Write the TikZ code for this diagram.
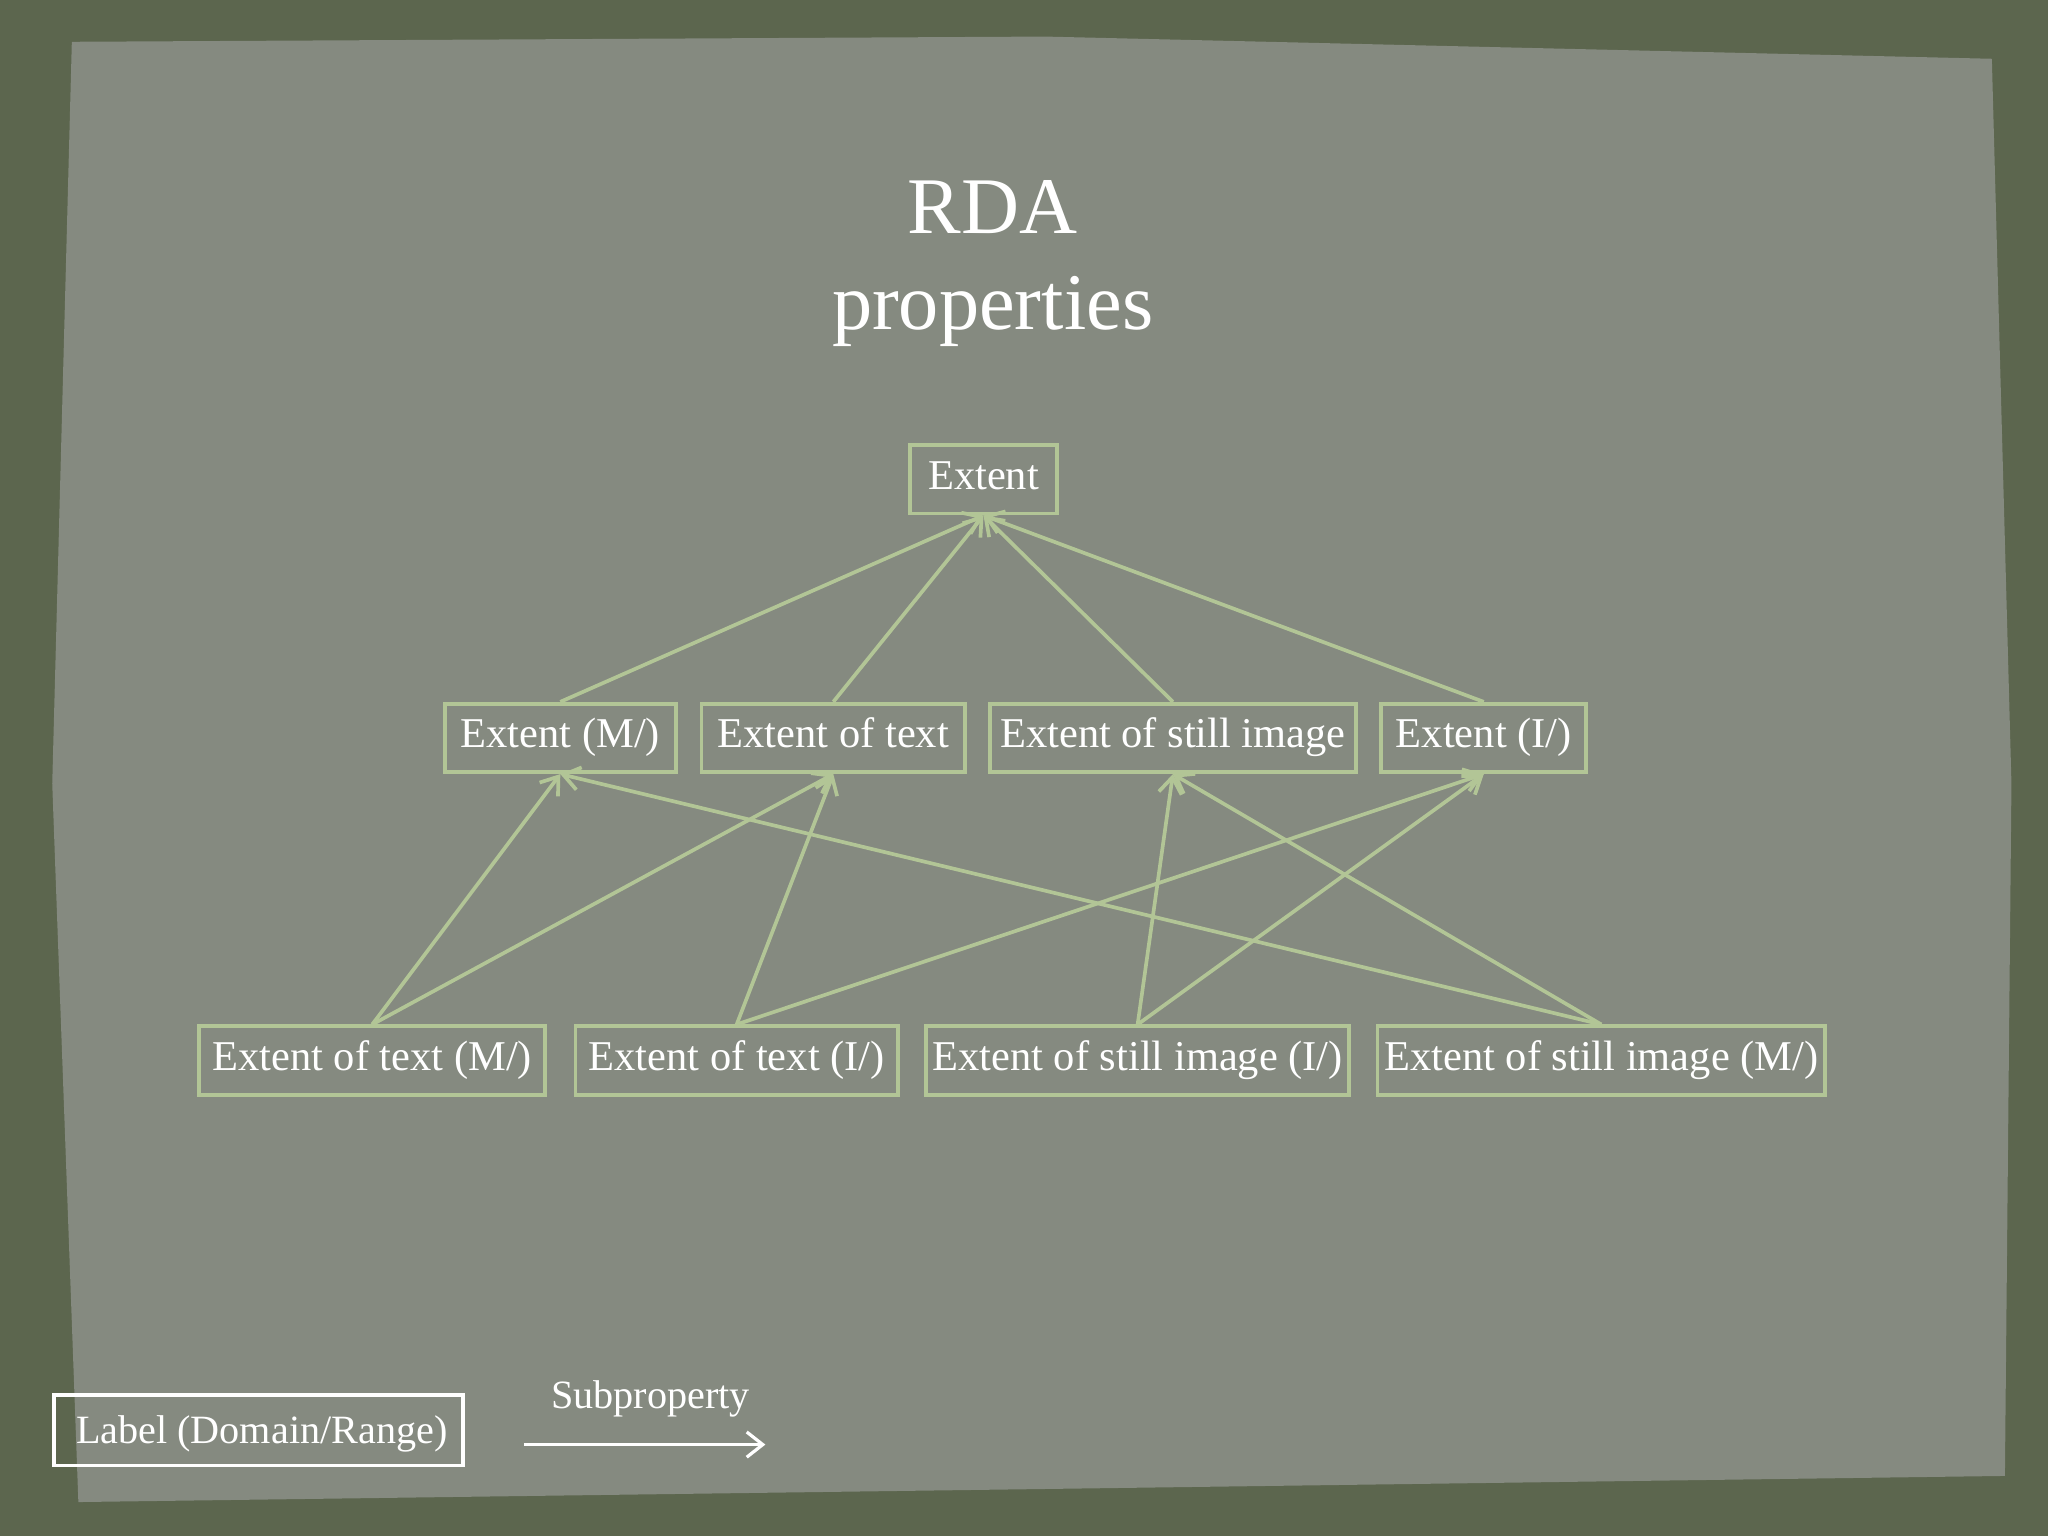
\documentclass[tikz,border=0pt]{standalone}
\usepackage{fontspec}
\setmainfont{Liberation Serif}
\usetikzlibrary{arrows.meta}
\begin{document}
\begin{tikzpicture}[x=0.02cm,y=-0.02cm,
  bx/.style={draw=boxc,line width=1.6pt,minimum height=1.05cm,inner sep=0pt,text height=1.05em,text depth=0.2em,text=white,font=\fontsize{18.5}{22}\selectfont},
  ar/.style={draw=boxc,line width=1.6pt,-{Straight Barb[length=7pt,width=10pt]}}]
\definecolor{boxc}{HTML}{B2C596}
\definecolor{outer}{HTML}{5C664E}
\definecolor{paper}{HTML}{858A80}
\useasboundingbox (0,0) rectangle (1568,1176);
\fill[outer] (0,0) rectangle (1568,1176);
\fill[paper] (55,32) -- (800,28) -- (1525,45) -- (1540,600) -- (1535,1130) -- (800,1140) -- (60,1150) -- (40,600) -- cycle;
\node[text=white,font=\fontsize{35}{42}\selectfont,align=center] (title) at (760,202) {RDA\\properties};
\node[bx,minimum width=2.26cm] (e) at (753,367) {Extent};
\node[bx,minimum width=3.54cm] (m) at (429,565) {Extent (M/)};
\node[bx,minimum width=4.04cm] (t) at (638,565) {Extent of text};
\node[bx,minimum width=5.6cm] (s) at (898,565) {Extent of still image};
\node[bx,minimum width=3.14cm] (i) at (1136,565) {Extent (I/)};
\node[bx,minimum width=5.3cm] (tm) at (285,812) {Extent of text (M/)};
\node[bx,minimum width=4.94cm] (ti) at (564,812) {Extent of text (I/)};
\node[bx,minimum width=6.48cm] (si) at (871,812) {Extent of still image (I/)};
\node[bx,minimum width=6.86cm] (sm) at (1226,812) {Extent of still image (M/)};
\foreach \a in {m,t,s,i} \draw[ar] (\a.north) -- (e.south);
\draw[ar] (tm.north) -- (m.south);
\draw[ar] (tm.north) -- (t.south);
\draw[ar] (ti.north) -- (t.south);
\draw[ar] (ti.north) -- (i.south);
\draw[ar] (si.north) -- (s.south);
\draw[ar] (si.north) -- (i.south);
\draw[ar] (sm.north) -- (m.south);
\draw[ar] (sm.north) -- (s.south);
\node[draw=white,line width=1.6pt,minimum width=6.26cm,minimum height=1.08cm] (lg) at (198,1095) {};
\node[text=white,font=\fontsize{17.5}{21}\selectfont,anchor=west] (lt) at (52,1098) {Label (Domain/Range)};
\coordinate (a1) at (401,1106); \coordinate (a2) at (586,1106);
\draw[white,line width=1.4pt,-{Straight Barb[length=7pt,width=11pt]}] (a1) -- (a2);
\node[text=white,font=\fontsize{17.5}{21}\selectfont] (sp) at (498,1071) {Subproperty};
\end{tikzpicture}
\end{document}
